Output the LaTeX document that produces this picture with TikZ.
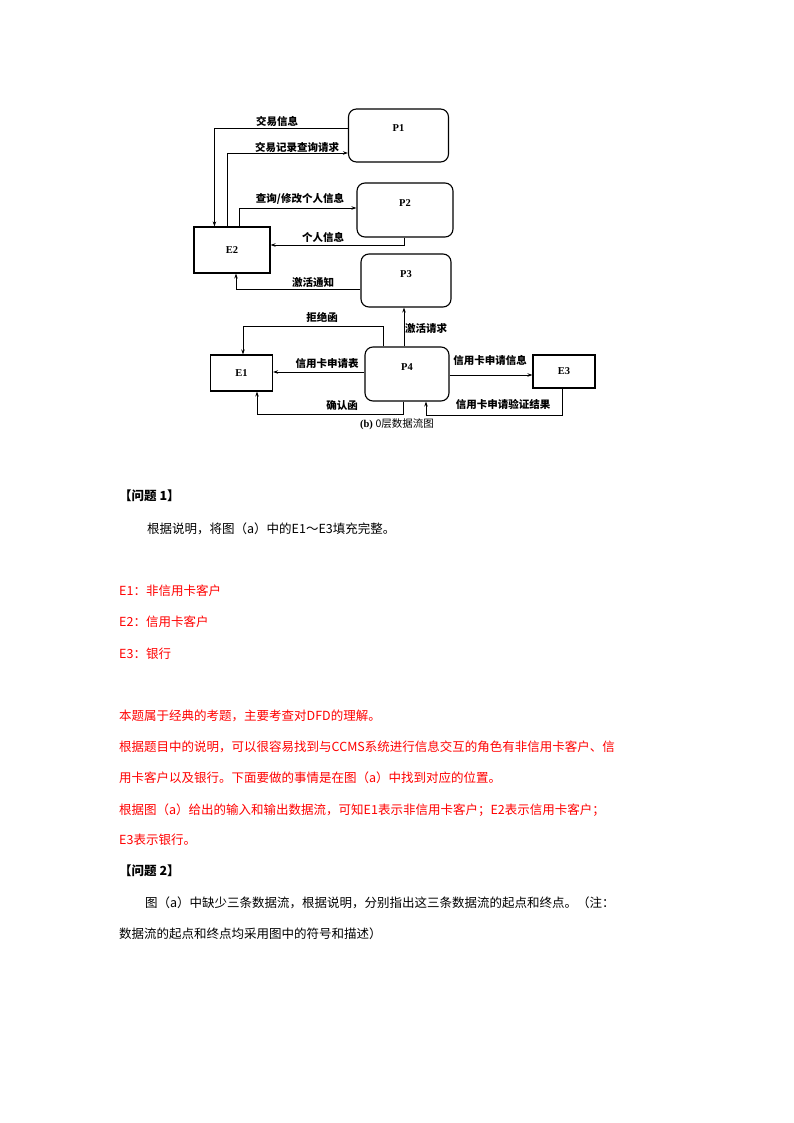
\documentclass[tikz,border=0pt]{standalone}
\usepackage{fontspec}
\setmainfont{Liberation Serif}
\newfontfamily\cjk{Noto Sans CJK SC}
\usetikzlibrary{arrows.meta}

\begin{document}
\begin{tikzpicture}[
  x=1pt, y=-1pt,
  proc/.style={
    draw,
    line width=1.1pt,
    rounded corners=8pt,
    inner sep=0pt,
    text height=7pt,
    text depth=14pt,
    font=\bfseries\fontsize{10.5}{12}\selectfont
  },
  ext/.style={
    draw,
    line width=1.1pt,
    inner sep=0pt,
    font=\bfseries\fontsize{10.5}{12}\selectfont
  },
  flow/.style={-{Stealth[length=5pt,width=3.5pt]}, line width=0.9pt},
  flowlbl/.style={inner sep=0pt, font=\cjk\bfseries\fontsize{10.5}{12}\selectfont},
  para/.style={anchor=west, inner sep=0pt, font=\cjk\fontsize{12.5}{15}\selectfont},
  ans/.style={para, text=red}
]
\fill[white] (0,0) rectangle (794,1123);
\useasboundingbox (0,0) rectangle (794,1123);

% --- Processes and external entities ---
\node[proc, minimum width=100pt, minimum height=53pt] (P1) at (398.5,135.5) {P1};
\node[proc, minimum width=96pt, minimum height=54pt] (P2) at (405,210) {P2};
\node[proc, minimum width=90pt, minimum height=53pt] (P3) at (406,280.5) {P3};
\node[proc, minimum width=84pt, minimum height=54pt] (P4) at (407,374) {P4};

\node[ext, minimum width=76pt, minimum height=46pt] (E2) at (232,250) {E2};
\node[ext, minimum width=62pt, minimum height=36pt] (E1) at (241.5,373) {E1};
\node[ext, minimum width=62pt, minimum height=33pt] (E3) at (564,371.5) {E3};

% --- Data flows ---
\draw[flow] ([yshift=7.5pt]P1.west) -| ([xshift=21pt]E2.north west);
\draw[flow] ([xshift=34pt]E2.north west) |- ([yshift=-17.5pt]P1.west);
\draw[flow] ([xshift=46pt]E2.north west) |- ([yshift=2pt]P2.west);
\draw[flow] ([xshift=-1pt]P2.south) |- ([yshift=5pt]E2.east);
\draw[flow] ([yshift=-8.5pt]P3.west) -| ([xshift=4pt]E2.south);
\draw[flow] ([xshift=-3pt]P4.north) -- ([xshift=-3pt]P4.north |- P3.south);
\draw[flow] ([xshift=-24pt]P4.north) -- ++(0pt,20pt) -| ([xshift=1.5pt]E1.north);
\draw[flow] ([yshift=2pt]P4.west) -- ([yshift=2pt]P4.west -| E1.east);
\draw[flow] ([xshift=-4pt]P4.south) -- ++(0pt,-13pt) -| ([xshift=15.5pt]E1.south);
\draw[flow] ([yshift=-1pt]P4.east) -- ([yshift=-1pt]P4.east -| E3.west);
\draw[flow] ([xshift=-2pt]E3.south) -- ++(0pt,-27pt) -| ([xshift=19pt]P4.south);

% Flow labels
\node[flowlbl] (lbl_tx) at (277,121) {交易信息};
\node[flowlbl] (lbl_query) at (297,147) {交易记录查询请求};
\node[flowlbl] (lbl_edit) at (300,199) {查询/修改个人信息};
\node[flowlbl] (lbl_info) at (323,237) {个人信息};
\node[flowlbl] (lbl_notice) at (313,283) {激活通知};
\node[flowlbl] (lbl_act) at (426,328) {激活请求};
\node[flowlbl] (lbl_reject) at (322,317) {拒绝函};
\node[flowlbl] (lbl_form) at (327,364) {信用卡申请表};
\node[flowlbl] (lbl_confirm) at (342,406) {确认函};
\node[flowlbl] (lbl_apply) at (490,360) {信用卡申请信息};
\node[flowlbl] (lbl_result) at (503,404) {信用卡申请验证结果};

\node[inner sep=0pt, font=\fontsize{10.5}{12}\selectfont] (caption) at (397,424)
  {\textbf{(b)} {\cjk 0层数据流图}};

% --- Text below the diagram ---
\node[para, font=\cjk\bfseries\fontsize{12.5}{15}\selectfont] (q1) at (119,496) {【问题 1】};
\node[para] (q1text) at (147,529) {根据说明，将图（a）中的E1～E3填充完整。};
\node[ans] (a1) at (119,591) {E1：非信用卡客户};
\node[ans] (a2) at (119,622) {E2：信用卡客户};
\node[ans] (a3) at (119,654) {E3：银行};
\node[ans] (r1) at (119,716) {本题属于经典的考题，主要考查对DFD的理解。};
\node[ans] (r2) at (119,747) {根据题目中的说明，可以很容易找到与CCMS系统进行信息交互的角色有非信用卡客户、信};
\node[ans] (r3) at (119,778) {用卡客户以及银行。下面要做的事情是在图（a）中找到对应的位置。};
\node[ans] (r4) at (119,810) {根据图（a）给出的输入和输出数据流，可知E1表示非信用卡客户；E2表示信用卡客户；};
\node[ans] (r5) at (119,840) {E3表示银行。};
\node[para, font=\cjk\bfseries\fontsize{12.5}{15}\selectfont] (q2) at (119,871) {【问题 2】};
\node[para] (q2text) at (145,903) {图（a）中缺少三条数据流，根据说明，分别指出这三条数据流的起点和终点。（注：};
\node[para] (q2note) at (119,934) {数据流的起点和终点均采用图中的符号和描述）};

\end{tikzpicture}
\end{document}
